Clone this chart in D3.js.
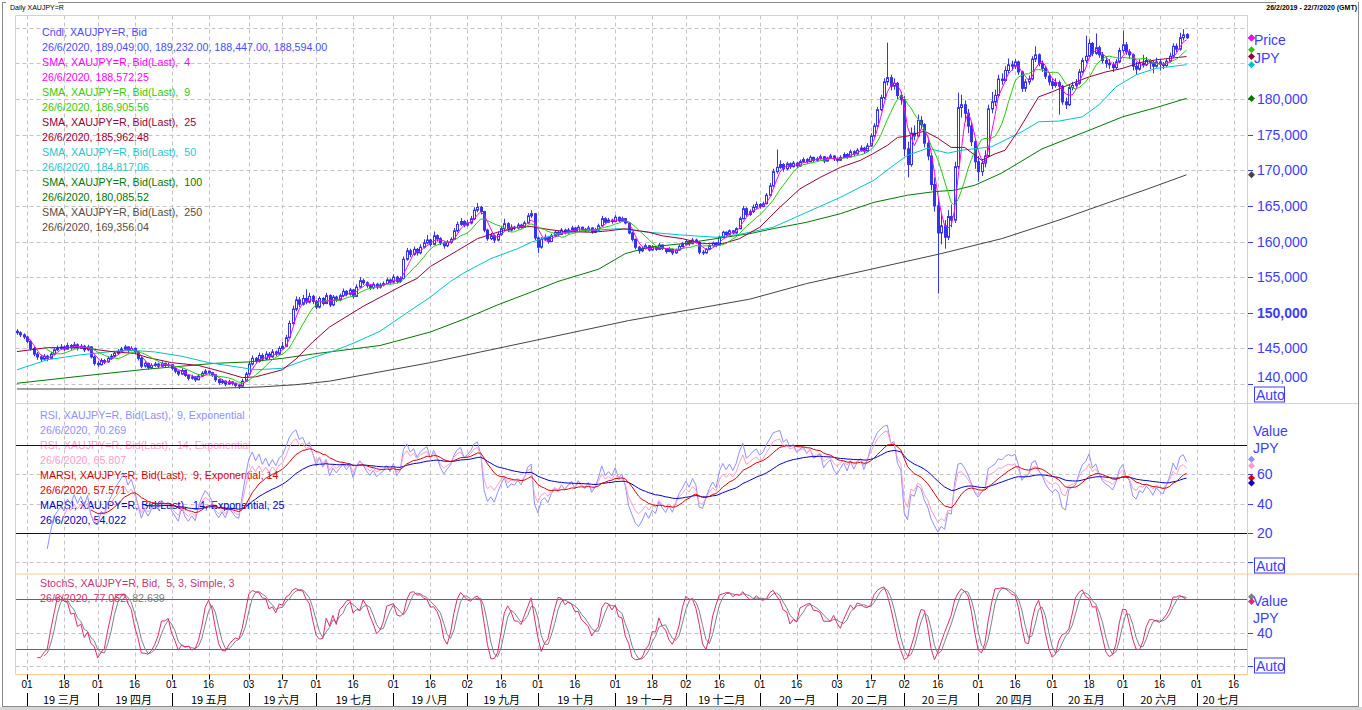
<!DOCTYPE html>
<html>
<head>
<meta charset="utf-8">
<script src="https://cdnjs.cloudflare.com/ajax/libs/d3/7.8.5/d3.min.js"></script>
<style>
  body { margin: 0; background: #fff; }
  text { font-family: "Liberation Sans", Arial, sans-serif; white-space: pre; }
  .cjk { font-family: "Noto Sans CJK SC", "Liberation Sans", sans-serif; }
</style>
</head>
<body>
<svg id="chart" width="1362" height="710"></svg>
<script>
// daily candles, thousand JPY: [open, high, low, close], first day 26/2/2019
const ohlc = [
[147.4,147.7,146.9,147.2],[147.2,147.4,146.6,146.9],[146.9,147.1,146.3,146.6],[146.6,146.8,145.7,146.0],[146.0,146.2,144.7,145.0],[145.0,145.2,143.9,144.2],[144.2,144.5,143.4,143.8],[143.8,144.1,143.1,143.5],[143.5,144.2,143.3,143.9],[143.9,144.1,143.2,143.6],
[143.6,144.5,143.5,144.2],[144.2,145.1,144.0,144.8],[144.8,145.4,144.6,145.0],[145.0,145.6,144.8,145.2],[145.2,145.4,144.6,144.9],[144.9,145.8,144.8,145.4],[145.4,145.6,144.8,145.1],[145.1,145.9,145.0,145.5],[145.5,145.7,144.7,145.0],[145.0,145.6,144.9,145.3],
[145.3,145.5,144.5,144.8],[144.8,145.5,144.6,145.2],[145.2,145.3,143.6,143.8],[143.8,144.0,142.6,142.9],[142.9,143.2,142.4,142.7],[142.7,143.6,142.6,143.3],[143.3,143.5,142.8,143.1],[143.1,143.9,143.0,143.6],[143.6,144.2,143.4,143.9],[143.9,144.6,143.8,144.3],
[144.3,144.9,144.1,144.6],[144.6,145.2,144.4,144.9],[144.9,145.5,144.7,145.2],[145.2,145.3,144.4,144.7],[144.7,145.3,144.6,145.0],[145.0,145.1,144.2,144.5],[144.5,144.6,143.3,143.6],[143.6,143.8,142.2,142.5],[142.5,143.2,142.3,142.9],[142.9,143.0,142.0,142.3],
[142.3,142.9,142.1,142.6],[142.6,143.1,142.4,142.8],[142.8,143.0,142.2,142.5],[142.5,143.2,142.4,142.9],[142.9,143.0,142.3,142.6],[142.6,143.0,142.4,142.7],[142.7,142.8,141.9,142.2],[142.2,142.3,141.5,141.8],[141.8,141.9,141.1,141.4],[141.4,142.2,141.3,141.9],
[141.9,142.0,141.0,141.2],[141.2,141.3,140.5,140.8],[140.8,141.3,140.6,141.0],[141.0,141.1,140.3,140.6],[140.6,141.4,140.5,141.1],[141.1,141.8,141.0,141.5],[141.5,142.1,141.4,141.8],[141.8,141.9,141.3,141.6],[141.6,141.7,141.0,141.3],[141.3,141.4,140.3,140.6],
[140.6,140.7,139.9,140.2],[140.2,140.7,140.0,140.4],[140.4,140.5,139.7,140.0],[140.0,140.6,139.9,140.3],[140.3,140.4,139.8,140.1],[140.1,140.2,139.5,139.8],[139.8,140.0,139.3,139.7],[139.7,140.7,139.6,140.4],[140.4,141.7,140.3,141.4],[141.4,143.1,141.2,142.8],
[142.8,144.0,142.6,143.6],[143.6,143.8,142.9,143.2],[143.2,144.4,143.0,144.0],[144.0,144.3,143.2,143.5],[143.5,144.6,143.4,144.2],[144.2,144.5,143.5,143.8],[143.8,144.9,143.7,144.5],[144.5,144.7,143.9,144.2],[144.2,145.3,144.1,145.0],[145.0,145.9,144.8,145.3],
[145.3,146.9,145.2,146.5],[146.5,148.9,146.4,148.5],[148.5,151.0,148.3,150.5],[150.5,152.3,150.2,151.8],[151.8,152.2,150.8,151.2],[151.2,152.5,151.0,152.0],[152.0,153.3,151.2,151.5],[151.5,152.8,151.3,152.3],[152.3,152.5,151.2,151.6],[151.6,151.8,150.5,150.8],
[150.8,152.3,150.6,152.0],[152.0,152.2,151.0,151.3],[151.3,152.8,151.2,152.4],[152.4,152.6,150.8,151.1],[151.1,152.5,150.9,152.2],[152.2,152.4,151.5,151.8],[151.8,152.7,151.6,152.4],[152.4,153.4,152.2,153.0],[153.0,153.2,152.3,152.6],[152.6,153.5,152.4,153.2],
[153.2,153.3,152.0,152.3],[152.3,154.0,152.2,153.6],[153.6,155.0,153.5,154.5],[154.5,154.8,153.9,154.2],[154.2,154.4,153.5,153.8],[153.8,154.0,153.2,153.5],[153.5,154.3,153.3,154.0],[154.0,154.2,153.3,153.6],[153.6,154.2,153.4,153.9],[153.9,154.4,153.7,154.1],
[154.1,154.9,154.0,154.6],[154.6,154.8,154.0,154.3],[154.3,155.4,154.2,155.0],[155.0,155.2,154.1,154.4],[154.4,155.1,154.2,154.8],[154.8,157.9,154.7,157.5],[157.5,159.1,157.3,158.7],[158.7,159.0,157.8,158.2],[158.2,159.3,158.0,158.9],[158.9,159.1,158.0,158.4],
[158.4,159.6,158.2,159.2],[159.2,160.3,159.0,159.8],[159.8,160.9,159.6,160.2],[160.2,160.4,159.3,159.6],[159.6,161.4,159.5,160.8],[160.8,161.0,160.0,160.4],[160.4,160.6,159.5,159.8],[159.8,160.0,159.0,159.4],[159.4,160.2,159.2,159.9],[159.9,160.6,159.7,160.3],
[160.3,161.9,160.2,161.5],[161.5,162.8,161.3,162.4],[162.4,163.3,162.2,162.8],[162.8,163.0,162.0,162.3],[162.3,163.0,162.1,162.6],[162.6,163.6,162.4,163.2],[163.2,164.8,163.0,164.4],[164.4,165.4,164.1,164.8],[164.8,165.0,163.8,164.2],[164.2,164.3,161.3,161.6],
[161.6,161.8,160.1,160.4],[160.4,161.2,160.2,160.8],[160.8,161.0,159.8,160.2],[160.2,161.4,160.0,161.0],[161.0,162.2,160.8,161.8],[161.8,163.2,161.6,162.5],[162.5,162.7,161.3,161.6],[161.6,162.4,161.4,162.0],[162.0,162.2,161.6,161.9],[161.9,162.6,161.7,162.3],
[162.3,162.5,161.8,162.0],[162.0,162.9,161.9,162.6],[162.6,164.0,162.5,163.6],[163.6,164.4,163.3,163.9],[163.9,164.0,160.2,160.5],[160.5,160.7,158.4,159.2],[159.2,160.6,159.0,160.3],[160.3,161.0,160.1,160.6],[160.6,160.8,159.7,160.0],[160.0,161.1,159.9,160.8],
[160.8,161.6,160.6,161.3],[161.3,161.5,160.7,161.0],[161.0,161.9,160.9,161.6],[161.6,161.8,161.0,161.2],[161.2,161.9,161.1,161.6],[161.6,162.2,161.5,161.9],[161.9,162.0,161.2,161.4],[161.4,162.3,161.3,162.0],[162.0,162.1,161.5,161.7],[161.7,161.9,161.3,161.5],
[161.5,162.2,161.4,161.9],[161.9,162.0,161.1,161.3],[161.3,161.9,161.2,161.6],[161.6,162.5,161.5,162.2],[162.2,163.6,162.1,163.2],[163.2,163.4,162.5,162.7],[162.7,163.3,162.6,163.0],[163.0,163.2,162.5,162.8],[162.8,163.7,162.7,163.4],[163.4,163.5,162.7,162.9],
[162.9,163.5,162.8,163.2],[163.2,163.3,162.4,162.6],[162.6,162.7,161.0,161.2],[161.2,161.4,160.0,160.3],[160.3,160.4,158.9,159.2],[159.2,159.4,158.3,158.7],[158.7,159.3,158.5,159.0],[159.0,159.7,158.9,159.4],[159.4,159.5,158.6,158.8],[158.8,159.5,158.7,159.2],
[159.2,159.3,158.7,158.9],[158.9,159.8,158.8,159.5],[159.5,159.6,158.8,159.0],[159.0,159.1,158.3,158.6],[158.6,159.2,158.5,158.9],[158.9,159.0,158.1,158.4],[158.4,159.0,158.3,158.8],[158.8,159.6,158.7,159.3],[159.3,159.9,159.2,159.6],[159.6,160.3,159.5,160.0],
[160.0,160.1,159.4,159.7],[159.7,160.5,159.6,160.2],[160.2,160.4,159.7,159.9],[159.9,160.0,158.2,158.5],[158.5,158.8,158.1,158.4],[158.4,159.1,158.3,158.9],[158.9,159.6,158.8,159.4],[159.4,160.0,159.3,159.8],[159.8,159.9,159.2,159.5],[159.5,160.8,159.4,160.6],
[160.6,161.5,160.5,161.3],[161.3,161.4,160.7,161.0],[161.0,161.7,160.9,161.5],[161.5,161.6,161.0,161.2],[161.2,162.0,161.1,161.8],[161.8,163.5,161.7,163.2],[163.2,165.0,163.1,164.6],[164.6,164.8,163.5,163.8],[163.8,164.5,163.6,164.2],[164.2,165.2,164.0,164.8],
[164.8,165.6,164.6,165.2],[165.2,165.4,164.6,164.9],[164.9,165.6,164.8,165.3],[165.3,166.8,165.2,166.5],[166.5,168.2,166.3,167.8],[167.8,170.2,167.6,169.8],[169.8,172.9,169.5,170.4],[170.4,171.4,170.2,170.8],[170.8,171.0,169.8,170.2],[170.2,171.2,170.0,170.9],
[170.9,171.1,170.2,170.5],[170.5,171.3,170.4,171.0],[171.0,171.2,170.3,170.6],[170.6,171.5,170.5,171.2],[171.2,171.8,171.0,171.5],[171.5,171.7,170.9,171.2],[171.2,172.1,171.1,171.8],[171.8,171.9,171.1,171.4],[171.4,171.9,171.3,171.6],[171.6,172.2,171.5,171.9],
[171.9,172.0,171.0,171.3],[171.3,171.9,171.2,171.7],[171.7,172.3,171.6,172.0],[172.0,172.1,171.3,171.6],[171.6,171.8,171.1,171.4],[171.4,172.1,171.3,171.8],[171.8,172.5,171.7,172.2],[172.2,172.4,171.6,171.9],[171.9,172.9,171.8,172.6],[172.6,172.8,172.0,172.3],
[172.3,173.1,172.2,172.8],[172.8,173.5,172.6,173.1],[173.1,173.3,172.4,172.7],[172.7,173.8,172.6,173.4],[173.4,175.2,173.3,174.8],[174.8,176.6,174.6,176.2],[176.2,178.9,176.0,178.5],[178.5,180.6,178.3,180.2],[180.2,182.9,180.0,182.4],[182.4,187.9,181.9,183.0],
[183.0,183.4,181.2,181.8],[181.8,182.9,181.3,182.2],[182.2,182.4,180.0,180.5],[180.5,181.0,179.2,179.9],[179.9,180.4,172.0,173.0],[173.0,174.0,169.0,170.8],[170.8,176.0,170.5,175.2],[175.2,176.3,174.2,174.8],[174.8,177.8,174.6,177.0],[177.0,177.6,175.8,176.4],
[176.4,176.6,173.2,173.8],[173.8,174.2,171.4,172.0],[172.0,172.4,167.2,168.0],[168.0,169.0,164.2,165.0],[165.0,166.2,152.7,161.2],[161.2,163.8,159.6,162.2],[162.2,163.0,159.0,160.6],[160.6,164.4,160.2,163.5],[163.5,165.2,162.0,163.0],[163.0,171.2,162.6,170.5],
[170.5,180.9,170.2,178.8],[178.8,180.6,177.4,179.2],[179.2,179.8,176.8,178.0],[178.0,178.6,175.2,176.2],[176.2,176.8,173.4,174.0],[174.0,174.4,170.2,171.2],[171.2,172.0,168.4,169.8],[169.8,171.6,169.2,171.0],[171.0,172.8,170.4,172.0],[172.0,179.2,171.8,178.6],
[178.6,181.0,178.0,179.6],[179.6,181.3,179.0,180.5],[180.5,183.4,180.2,182.8],[182.8,183.6,182.0,182.6],[182.6,184.6,182.4,184.0],[184.0,185.7,183.6,184.8],[184.8,185.4,184.0,184.6],[184.6,185.6,184.2,185.2],[185.2,185.4,183.4,183.8],[183.8,184.0,181.0,181.5],
[181.5,182.8,181.0,182.4],[182.4,183.3,182.0,182.8],[182.8,186.0,182.6,185.6],[185.6,187.4,185.2,186.2],[186.2,186.4,184.6,185.0],[185.0,185.4,183.8,184.3],[184.3,184.6,182.8,183.2],[183.2,183.6,181.9,182.4],[182.4,182.8,181.4,181.9],[181.9,182.9,181.6,182.3],
[182.3,182.6,177.8,181.8],[181.8,182.0,179.2,179.6],[179.6,180.2,178.6,179.2],[179.2,182.0,179.0,181.6],[181.6,182.4,181.2,181.9],[181.9,182.8,181.6,182.2],[182.2,184.2,182.0,183.8],[183.8,185.8,183.6,185.4],[185.4,188.9,185.0,186.0],[186.0,188.4,185.8,187.8],
[187.8,188.0,186.0,186.4],[186.4,189.2,186.2,187.2],[187.2,187.5,185.8,186.2],[186.2,186.6,185.0,185.4],[185.4,186.0,184.4,185.0],[185.0,185.6,184.2,184.8],[184.8,185.2,183.8,184.4],[184.4,185.6,184.2,185.2],[185.2,187.2,185.0,186.8],[186.8,189.6,186.4,187.6],
[187.6,188.0,186.2,186.6],[186.6,187.0,185.6,186.2],[186.2,186.4,184.0,184.6],[184.6,185.2,183.4,184.2],[184.2,185.6,184.0,185.0],[185.0,186.2,184.4,184.8],[184.8,185.9,184.6,185.4],[185.4,185.6,184.2,185.1],[185.1,185.4,183.6,184.6],[184.6,185.8,184.4,185.2],
[185.2,185.5,184.0,184.9],[184.9,185.2,184.2,184.7],[184.7,185.6,184.5,185.3],[185.3,186.5,185.1,186.0],[186.0,187.8,185.8,187.4],[187.4,187.8,186.6,187.0],[187.0,189.3,186.8,188.6],[188.6,189.8,188.2,189.0],[189.049,189.232,188.447,188.594]
];

// longer moving averages: [trading-day index, thousand JPY]
const sma25Pts = [[0,144.55],[9,145.1],[19,145.1],[29,144.5],[35,144.3],[39,143.7],[46,143.0],[54,142.6],[62,141.6],[67,140.9],[71,141.0],[79,142.0],[83,143.5],[88,145.9],[93,148.0],[103,150.9],[109,152.4],[115,153.9],[119,154.8],[123,156.5],[131,158.7],[137,160.4],[143,161.3],[149,162.0],[153,162.1],[158,161.7],[163,161.4],[171,161.3],[176,161.5],[181,161.8],[188,161.3],[192,160.8],[198,160.4],[204,159.7],[210,159.7],[215,160.4],[221,162.0],[227,164.8],[233,167.4],[239,169.0],[245,170.4],[251,171.4],[255,172.4],[259,173.5],[262,174.6],[265,174.8],[270,175.5],[274,174.5],[278,173.2],[282,173.2],[287,171.4],[291,172.3],[294,172.8],[298,175.6],[304,180.3],[308,181.0],[314,182.2],[319,183.1],[324,183.8],[329,184.3],[334,185.1],[339,185.5],[348,185.96]];
const sma50Pts = [[0,142.0],[9,143.4],[19,144.1],[29,144.6],[35,144.7],[41,144.5],[49,143.9],[57,143.0],[64,142.5],[71,142.0],[79,142.2],[86,143.4],[94,144.6],[100,145.7],[108,147.4],[117,150.3],[123,152.2],[129,154.4],[133,155.6],[141,157.6],[149,159.0],[153,159.9],[161,161.1],[169,161.5],[179,161.8],[188,161.3],[198,160.9],[208,160.6],[215,161.0],[225,162.0],[235,164.1],[245,166.2],[255,168.6],[260,170.4],[265,172.1],[271,173.1],[277,172.4],[281,172.8],[290,173.3],[299,175.4],[304,176.8],[310,176.9],[317,177.5],[322,179.2],[327,181.7],[333,183.4],[339,184.3],[348,184.82]];
const sma100Pts = [[0,140.1],[19,141.1],[39,142.1],[49,142.5],[59,142.9],[69,143.1],[79,143.6],[88,144.2],[93,144.5],[108,145.4],[123,147.3],[133,149.1],[143,151.1],[153,152.9],[161,154.4],[173,156.1],[181,158.3],[188,159.2],[198,159.7],[208,160.4],[218,161.1],[225,161.8],[235,162.7],[245,163.9],[255,165.5],[265,166.5],[273,167.0],[279,167.2],[285,167.9],[293,169.6],[305,173.0],[319,175.6],[329,177.5],[339,178.8],[348,180.09]];
const sma250Pts = [[0,139.3],[20,139.3],[40,139.35],[60,139.4],[73,139.6],[83,139.9],[93,140.4],[108,141.7],[123,143.0],[138,144.5],[153,146.0],[168,147.5],[182,148.9],[200,150.4],[218,151.9],[235,154.1],[255,156.2],[275,158.3],[293,160.4],[310,163.0],[325,165.5],[336,167.3],[348,169.36]];

// legend values on 26/6/2020
const mainLast = [188594, 188572.25, 186905.56, 185962.48, 184817.06, 180085.52, 169356.04];
const rsiLast = [70.269, 65.807, 57.571, 54.022];
const stochLast = [77.052, 82.639];

const mainLegend = [
  "Cndl, XAUJPY=R, Bid", "26/6/2020, 189,049.00, 189,232.00, 188,447.00, 188,594.00",
  "SMA, XAUJPY=R, Bid(Last),  4", "26/6/2020, 188,572.25",
  "SMA, XAUJPY=R, Bid(Last),  9", "26/6/2020, 186,905.56",
  "SMA, XAUJPY=R, Bid(Last),  25", "26/6/2020, 185,962.48",
  "SMA, XAUJPY=R, Bid(Last),  50", "26/6/2020, 184,817.06",
  "SMA, XAUJPY=R, Bid(Last),  100", "26/6/2020, 180,085.52",
  "SMA, XAUJPY=R, Bid(Last),  250", "26/6/2020, 169,356.04"
];
const rsiLegend = [
  "RSI, XAUJPY=R, Bid(Last),  9, Exponential", "26/6/2020, 70.269",
  "RSI, XAUJPY=R, Bid(Last),  14, Exponential", "26/6/2020, 65.807",
  "MARSI, XAUJPY=R, Bid(Last),  9, Exponential, 14", "26/6/2020, 57.571",
  "MARSI, XAUJPY=R, Bid(Last),  14, Exponential, 25", "26/6/2020, 54.022"
];

const mainTicks = [140000, 145000, 150000, 155000, 160000, 165000, 170000, 175000, 180000, 185000, 190000];
const dayTicks = ["2019-03-01","2019-03-18","2019-04-01","2019-04-16","2019-05-01","2019-05-16","2019-06-03","2019-06-17",
  "2019-07-01","2019-07-16","2019-08-01","2019-08-16","2019-09-02","2019-09-16","2019-10-01","2019-10-16",
  "2019-11-01","2019-11-18","2019-12-02","2019-12-16","2020-01-01","2020-01-16","2020-02-03","2020-02-17",
  "2020-03-02","2020-03-16","2020-04-01","2020-04-16","2020-05-01","2020-05-18","2020-06-01","2020-06-16",
  "2020-07-01","2020-07-16"];
const monthStarts = ["2019-03-01","2019-04-01","2019-05-01","2019-06-03","2019-07-01","2019-08-01","2019-09-02","2019-10-01",
  "2019-11-01","2019-12-02","2020-01-01","2020-02-03","2020-03-02","2020-04-01","2020-05-01","2020-06-01","2020-07-01"];
const monthLabels = ["19 三月","19 四月","19 五月","19 六月","19 七月","19 八月","19 九月","19 十月",
  "19 十一月","19 十二月","20 一月","20 二月","20 三月","20 四月","20 五月","20 六月","20 七月"];

// layout
const W = 1362, H = 710;
const L = 15.5, R = 1247.5;
const MAIN = {top: 15.5, bottom: 403.5};
const RSIP = {top: 403.5, bottom: 574};
const STOP = {top: 574, bottom: 674.5};
const AXIS_BLUE = "#3c3cff";
const ORANGE = "#fcc992";
const GRID = "#c4c4c4";
const LEGEND_SIZE = 10.7;

const mainColors = ["#3434f0", "#ff00ff", "#22cc00", "#990038", "#00c4c8", "#007a00", "#444444"];
const mainLegendColors = ["#4b4bff", "#ff00ff", "#33cc00", "#990038", "#22c8cc", "#007a00", "#5a4b3c"];
const rsiColors = ["#8f8fff", "#ff9ccc", "#dd0000", "#0000cc"];
const stochColors = ["#e0287a", "#808080"];

const parse = d3.timeParse("%Y-%m-%d");
const fmt = d3.timeFormat("%Y-%m-%d");
const calendar = d3.timeDay.range(parse("2019-02-26"), parse("2020-07-23"))
  .filter(d => d.getDay() % 6 !== 0).map(fmt);
const days = calendar.slice(0, ohlc.length);

const x = d3.scalePoint().domain(calendar).range([17, 1247]);
const px = d => Math.round(x(d)) + 0.5;
const yMain = d3.scaleLinear().domain([140000, 180000]).range([384, 99]);
const yRsi = d3.scaleLinear().domain([0, 100]).range([562.3, 415.7]);
const ySto = d3.scaleLinear().domain([0, 100]).range([666, 582.3]);

// indicators
const opens = ohlc.map(d => d[0] * 1000);
const highs = ohlc.map(d => d[1] * 1000);
const lows = ohlc.map(d => d[2] * 1000);
const closes = ohlc.map(d => d[3] * 1000);

function sma(vals, n) {
  return vals.map((v, i) => {
    if (i < n - 1) return null;
    const w = vals.slice(i - n + 1, i + 1);
    return w.some(d => d == null) ? null : d3.mean(w);
  });
}
function rsi(vals, n) {
  const out = vals.map(() => null);
  let g = 0, l = 0;
  for (let i = 1; i < vals.length; i++) {
    const ch = vals[i] - vals[i - 1];
    const up = Math.max(ch, 0), dn = Math.max(-ch, 0);
    if (i <= n) {
      g += up / n; l += dn / n;
      if (i === n) out[i] = 100 - 100 / (1 + g / l);
    } else {
      g = (g * (n - 1) + up) / n;
      l = (l * (n - 1) + dn) / n;
      out[i] = 100 - 100 / (1 + g / l);
    }
  }
  return out;
}
// exponential average seeded with the simple average of its first n values
function ema(vals, n) {
  const k = 2 / (n + 1);
  let prev = null, seen = [];
  return vals.map(v => {
    if (v == null) return null;
    if (prev == null) {
      seen.push(v);
      if (seen.length < n) return null;
      prev = d3.mean(seen);
      return prev;
    }
    prev = prev + k * (v - prev);
    return prev;
  });
}

const sma4 = sma(closes, 4);
const sma9 = sma(closes, 9);
const rsi9 = rsi(closes, 9);
const rsi14 = rsi(closes, 14);
const marsi9 = ema(rsi9, 14);
const marsi14 = ema(rsi14, 25);
const rawK = closes.map((c, i) => {
  if (i < 4) return null;
  const hh = d3.max(highs.slice(i - 4, i + 1)), ll = d3.min(lows.slice(i - 4, i + 1));
  return hh === ll ? 50 : (c - ll) / (hh - ll) * 100;
});
const slowK = sma(rawK, 3);
const slowD = sma(slowK, 3);

const svg = d3.select("#chart");
svg.append("rect").attr("width", W).attr("height", H).attr("fill", "#fff");

// window frame and header
svg.append("rect").attr("x", 0).attr("y", 707).attr("width", W).attr("height", 3).attr("fill", "#d6d6d6");
svg.append("rect").attr("x", 2.5).attr("y", 2.5).attr("width", 1356).attr("height", 704)
  .attr("fill", "none").attr("stroke", "#8a8a8a");
svg.append("rect").attr("x", 6).attr("y", 0).attr("width", 52).attr("height", 12).attr("fill", "#fff");
svg.append("text").attr("x", 10).attr("y", 10).attr("font-size", 7).attr("fill", "#000").text("Daily XAUJPY=R");
svg.append("rect").attr("x", 1276).attr("y", 0).attr("width", 82).attr("height", 12).attr("fill", "#fff");
svg.append("text").attr("x", 1357).attr("y", 10).attr("font-size", 7).attr("font-weight", "bold")
  .attr("text-anchor", "end").attr("fill", "#000").text("26/2/2019 - 22/7/2020 (GMT)");

const defs = svg.append("defs");
[["clipMain", MAIN], ["clipRsi", RSIP], ["clipSto", STOP]].forEach(([id, p]) => {
  defs.append("clipPath").attr("id", id).append("rect")
    .attr("x", L).attr("y", p.top).attr("width", R - L).attr("height", p.bottom - p.top);
});

// grid
const grid = svg.append("g").attr("stroke", GRID).attr("stroke-dasharray", "4,3").attr("stroke-width", 1);
grid.selectAll(".vg").data(dayTicks).join("line")
  .attr("x1", px).attr("x2", px)
  .attr("y1", MAIN.top).attr("y2", STOP.bottom);
grid.selectAll(".hm").data(mainTicks).join("line")
  .attr("x1", L).attr("x2", R)
  .attr("y1", d => Math.round(yMain(d)) + 0.5).attr("y2", d => Math.round(yMain(d)) + 0.5);
grid.selectAll(".hr").data([0, 40, 60]).join("line")
  .attr("x1", L).attr("x2", R)
  .attr("y1", d => Math.round(yRsi(d)) + 0.5).attr("y2", d => Math.round(yRsi(d)) + 0.5);
grid.selectAll(".hs").data([0, 40]).join("line")
  .attr("x1", L).attr("x2", R)
  .attr("y1", d => Math.round(ySto(d)) + 0.5).attr("y2", d => Math.round(ySto(d)) + 0.5);

// legends
svg.append("g").selectAll("text").data(mainLegend).join("text")
  .attr("x", 42).attr("y", (d, i) => 36 + i * 15).attr("font-size", LEGEND_SIZE)
  .attr("fill", (d, i) => mainLegendColors[Math.floor(i / 2)]).text(d => d);
svg.append("g").selectAll("text").data(rsiLegend).join("text")
  .attr("x", 40).attr("y", (d, i) => 419 + i * 15).attr("font-size", LEGEND_SIZE)
  .attr("fill", (d, i) => rsiColors[Math.floor(i / 2)]).text(d => d);
svg.append("text").attr("x", 40).attr("y", 587).attr("font-size", LEGEND_SIZE).attr("fill", "#cc3377")
  .text("StochS, XAUJPY=R, Bid,  5, 3, Simple, 3");
const st2 = svg.append("text").attr("x", 40).attr("y", 602).attr("font-size", LEGEND_SIZE);
st2.append("tspan").attr("fill", "#cc3377").text("26/6/2020, 77.052, ");
st2.append("tspan").attr("fill", "#808080").text("82.639");

// main panel: candles + moving averages
const mainG = svg.append("g").attr("clip-path", "url(#clipMain)");
const candleG = mainG.append("g");
const candles = days.map((d, i) => ({d, o: opens[i], h: highs[i], l: lows[i], c: closes[i]}));
candleG.selectAll("line").data(candles).join("line")
  .attr("x1", d => px(d.d)).attr("x2", d => px(d.d))
  .attr("y1", d => yMain(d.h)).attr("y2", d => yMain(d.l))
  .attr("stroke", mainColors[0]).attr("stroke-width", 1);
candleG.selectAll("rect").data(candles).join("rect")
  .attr("x", d => px(d.d) - 1).attr("width", 2)
  .attr("y", d => yMain(Math.max(d.o, d.c)))
  .attr("height", d => Math.max(Math.abs(yMain(d.o) - yMain(d.c)), 0.6))
  .attr("fill", d => d.c >= d.o ? "#fff" : mainColors[0])
  .attr("stroke", mainColors[0]).attr("stroke-width", 1);

const lineOf = (yScale) => d3.line().defined(d => d[1] != null).x(d => x(d[0])).y(d => yScale(d[1]));
const fromPts = pts => pts.map(p => [calendar[p[0]], p[1] * 1000]);
const daily = vals => days.map((d, i) => [d, vals[i]]);

[[fromPts(sma250Pts), 6], [fromPts(sma100Pts), 5], [fromPts(sma50Pts), 4], [fromPts(sma25Pts), 3],
 [daily(sma9), 2], [daily(sma4), 1]].forEach(([data, ci]) => {
  mainG.append("path").datum(data).attr("d", lineOf(yMain))
    .attr("fill", "none").attr("stroke", mainColors[ci]).attr("stroke-width", 1);
});

// RSI panel
const rsiG = svg.append("g").attr("clip-path", "url(#clipRsi)");
[80, 20].forEach(v => {
  rsiG.append("line").attr("x1", L).attr("x2", R)
    .attr("y1", Math.round(yRsi(v)) + 0.5).attr("y2", Math.round(yRsi(v)) + 0.5)
    .attr("stroke", "#000090").attr("stroke-width", 1);
});
[[rsi9, 0], [rsi14, 1], [marsi14, 3], [marsi9, 2]].forEach(([vals, ci]) => {
  rsiG.append("path").datum(daily(vals)).attr("d", lineOf(yRsi))
    .attr("fill", "none").attr("stroke", rsiColors[ci]).attr("stroke-width", 1);
});

// stochastic panel
const stoG = svg.append("g").attr("clip-path", "url(#clipSto)");
[80, 20].forEach(v => {
  stoG.append("line").attr("x1", L).attr("x2", R)
    .attr("y1", Math.round(ySto(v)) + 0.5).attr("y2", Math.round(ySto(v)) + 0.5)
    .attr("stroke", "#c8306e").attr("stroke-width", 1);
});
[[slowD, 1], [slowK, 0]].forEach(([vals, ci]) => {
  stoG.append("path").datum(daily(vals)).attr("d", lineOf(ySto))
    .attr("fill", "none").attr("stroke", stochColors[ci]).attr("stroke-width", 1);
});

// panel borders
const border = svg.append("g").attr("stroke", ORANGE).attr("stroke-width", 1).attr("fill", "none");
border.append("line").attr("x1", L).attr("x2", R).attr("y1", MAIN.top).attr("y2", MAIN.top);
border.append("line").attr("x1", L).attr("x2", L).attr("y1", MAIN.top).attr("y2", STOP.bottom);
border.append("line").attr("x1", R).attr("x2", R).attr("y1", MAIN.top).attr("y2", STOP.bottom);
border.append("line").attr("x1", L).attr("x2", R).attr("y1", STOP.bottom).attr("y2", STOP.bottom);
border.append("line").attr("x1", L).attr("x2", 1358).attr("y1", MAIN.bottom).attr("y2", MAIN.bottom);
border.append("line").attr("x1", L).attr("x2", 1358).attr("y1", RSIP.bottom).attr("y2", RSIP.bottom);

// right axes
const rAxis = svg.append("g").attr("fill", AXIS_BLUE).attr("font-size", 14);
function rTick(y) {
  rAxis.append("line").attr("x1", 1248).attr("x2", 1253).attr("y1", Math.round(y) + 0.5).attr("y2", Math.round(y) + 0.5)
    .attr("stroke", AXIS_BLUE).attr("stroke-width", 1);
}
function autoBox(bottom) {
  rAxis.append("rect").attr("x", 1254.5).attr("y", bottom - 15.5).attr("width", 30).attr("height", 15)
    .attr("fill", "none").attr("stroke", AXIS_BLUE).attr("stroke-width", 1);
  rAxis.append("text").attr("x", 1256).attr("y", bottom - 3).text("Auto");
}
rAxis.append("text").attr("x", 1254).attr("y", 45).text("Price");
rAxis.append("text").attr("x", 1254).attr("y", 63).text("JPY");
mainTicks.filter(v => v <= 180000).forEach(v => {
  rTick(yMain(v));
  rAxis.append("text").attr("x", 1257).attr("y", v === 140000 ? yMain(v) - 2 : yMain(v) + 5)
    .attr("font-weight", v === 150000 ? "bold" : null).text(d3.format(",")(v));
});
autoBox(MAIN.bottom - 1);

rAxis.append("text").attr("x", 1253).attr("y", 436).text("Value");
rAxis.append("text").attr("x", 1253).attr("y", 453).text("JPY");
[60, 40, 20].forEach(v => {
  rTick(yRsi(v));
  rAxis.append("text").attr("x", 1257).attr("y", yRsi(v) + 5).text(v);
});
rTick(yRsi(0));
autoBox(RSIP.bottom - 0.5);

rAxis.append("text").attr("x", 1253).attr("y", 606).text("Value");
rAxis.append("text").attr("x", 1253).attr("y", 623).text("JPY");
rTick(ySto(40));
rAxis.append("text").attr("x", 1257).attr("y", ySto(40) + 5).text(40);
rTick(ySto(0));
autoBox(STOP.bottom - 1);

// last-value markers
const diamond = "M0,-3.5L3.5,0L0,3.5L-3.5,0Z";
const markers = svg.append("g");
mainLast.forEach((v, i) => markers.append("path").attr("d", diamond)
  .attr("transform", `translate(1251.5,${yMain(v)})`).attr("fill", mainColors[i]));
rsiLast.forEach((v, i) => markers.append("path").attr("d", diamond)
  .attr("transform", `translate(1251.5,${yRsi(v)})`).attr("fill", rsiColors[i]));
[[stochLast[1], 1], [stochLast[0], 0]].forEach(([v, ci]) => markers.append("path").attr("d", diamond)
  .attr("transform", `translate(1251.5,${ySto(v)})`).attr("fill", stochColors[ci]));

// date axis
const xAxis = svg.append("g");
xAxis.selectAll("line").data(dayTicks).join("line")
  .attr("x1", px).attr("x2", px)
  .attr("y1", STOP.bottom).attr("y2", STOP.bottom + 5).attr("stroke", "#000");
xAxis.selectAll("text").data(dayTicks).join("text")
  .attr("x", d => x(d)).attr("y", 688).attr("text-anchor", "middle").attr("font-size", 10)
  .attr("fill", "#000").text(d => d.slice(8));

const monthG = svg.append("g");
monthStarts.forEach((s, i) => {
  const x0 = x(s);
  const x1 = i < monthStarts.length - 1 ? x(monthStarts[i + 1]) : 1247;
  monthG.append("line").attr("x1", px(s)).attr("x2", px(s))
    .attr("y1", 693).attr("y2", 706).attr("stroke", "#000");
  monthG.append("text").attr("class", "cjk").attr("x", (x0 + x1) / 2 - 1).attr("y", 703.5)
    .attr("text-anchor", "middle").attr("font-size", 11).attr("fill", "#000").text(monthLabels[i]);
});
</script>
</body>
</html>
